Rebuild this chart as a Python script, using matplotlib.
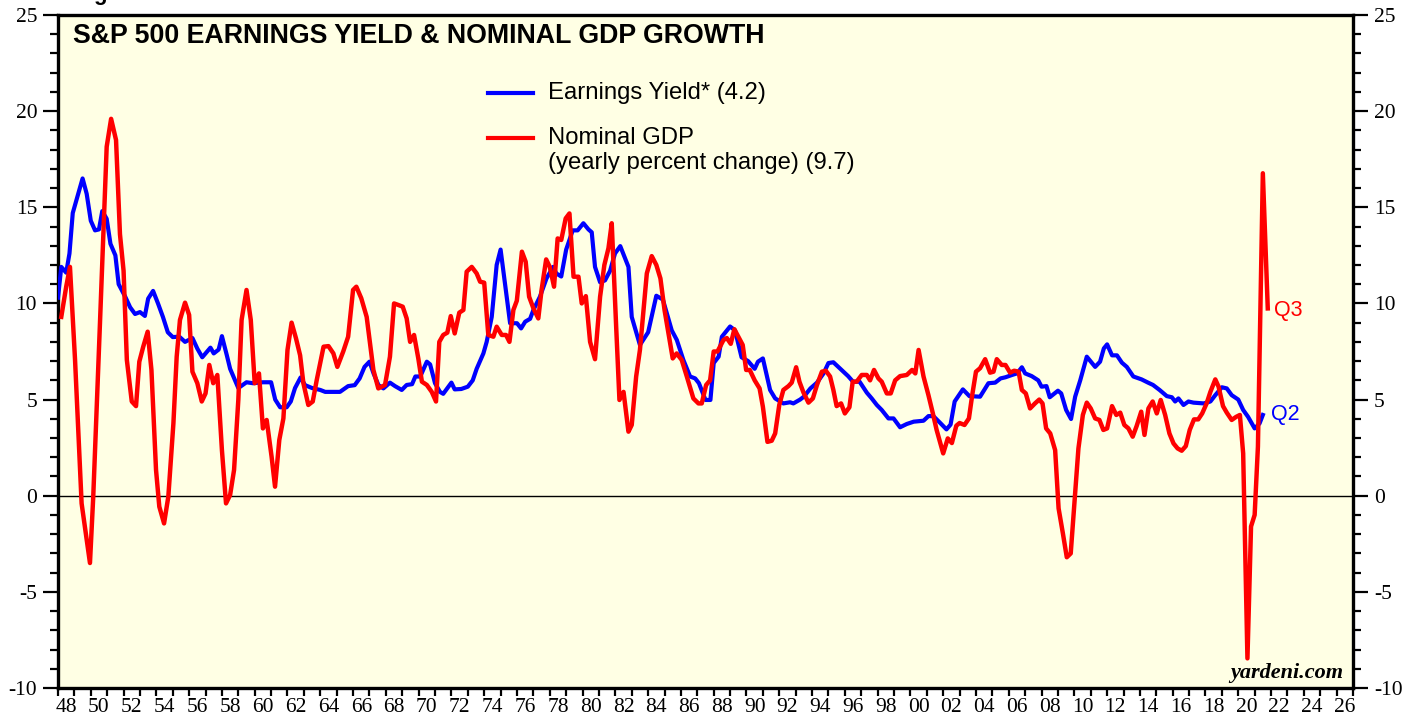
import numpy as np
import matplotlib
matplotlib.use('Agg')
import matplotlib.pyplot as plt
from matplotlib.ticker import MultipleLocator, FixedLocator, NullFormatter, FixedFormatter

# S&P 500 earnings yield (blue) at turning points
ey_years = [1948.0, 1948.2, 1948.5, 1948.7, 1948.9, 1949.2, 1949.5, 1949.75, 1950.0, 1950.26,
            1950.5, 1950.7, 1950.97, 1951.2, 1951.5, 1951.7, 1952.1, 1952.4, 1952.7, 1953.0,
            1953.3, 1953.5, 1953.8, 1954.1, 1954.4, 1954.7, 1955.0, 1955.4, 1955.75, 1956.2,
            1956.5, 1956.8, 1957.3, 1957.5, 1957.8, 1958.0, 1958.3, 1958.5, 1959.0, 1959.5,
            1959.9, 1960.5, 1961.0, 1961.25, 1961.55, 1961.95, 1962.2, 1962.46, 1962.8, 1963.07,
            1963.5, 1964.0, 1964.3, 1965.2, 1965.7, 1966.1, 1966.4, 1966.7, 1967.0, 1967.25,
            1967.55, 1967.85, 1968.25, 1968.56, 1968.97, 1969.27, 1969.6, 1969.8, 1970.1, 1970.5,
            1970.7, 1971.0, 1971.3, 1971.5, 1972.0, 1972.2, 1972.6, 1973.0, 1973.3, 1973.54,
            1973.95, 1974.15, 1974.46, 1974.76, 1975.0, 1975.27, 1975.58, 1976.0, 1976.25, 1976.5,
            1976.8, 1977.0, 1977.4, 1977.8, 1978.2, 1978.4, 1978.7, 1979.0, 1979.4, 1979.7,
            1980.05, 1980.36, 1980.56, 1980.76, 1981.07, 1981.37, 1981.68, 1981.98, 1982.3, 1982.8,
            1983.0, 1983.5, 1984.0, 1984.5, 1984.9, 1985.44, 1985.75, 1986.15, 1986.56, 1986.87,
            1987.1, 1987.5, 1987.8, 1988.0, 1988.3, 1988.5, 1989.0, 1989.3, 1989.7, 1990.1,
            1990.5, 1990.7, 1991.0, 1991.44, 1991.75, 1992.25, 1992.66, 1992.86, 1993.27, 1993.5,
            1993.9, 1994.3, 1994.7, 1995.0, 1995.3, 1995.8, 1996.2, 1996.5, 1996.9, 1997.34,
            1997.64, 1997.95, 1998.25, 1998.66, 1998.97, 1999.37, 1999.78, 2000.2, 2000.8, 2001.1,
            2001.4, 2001.8, 2002.2, 2002.45, 2002.7, 2003.2, 2003.6, 2004.25, 2004.76, 2005.17,
            2005.5, 2005.8, 2006.2, 2006.5, 2006.8, 2007.0, 2007.4, 2007.8, 2008.0, 2008.3,
            2008.5, 2009.0, 2009.2, 2009.5, 2009.8, 2010.05, 2010.36, 2010.76, 2011.27, 2011.57,
            2011.8, 2012.0, 2012.3, 2012.6, 2012.9, 2013.2, 2013.6, 2014.1, 2014.5, 2014.8,
            2015.2, 2015.64, 2015.95, 2016.15, 2016.35, 2016.66, 2016.96, 2017.27, 2017.9, 2018.3,
            2018.6, 2019.0, 2019.3, 2019.6, 2020.0, 2020.3, 2020.6, 2021.0, 2021.3, 2021.5]
ey_vals = [10.3, 11.9, 11.6, 12.6, 14.7, 15.6, 16.5, 15.7, 14.3, 13.8,
           13.85, 14.8, 14.4, 13.1, 12.5, 11.0, 10.35, 9.8, 9.45, 9.55,
           9.35, 10.25, 10.65, 10.0, 9.3, 8.5, 8.25, 8.27, 8.0, 8.2,
           7.65, 7.2, 7.7, 7.4, 7.6, 8.3, 7.3, 6.6, 5.6, 5.9,
           5.85, 5.9, 5.9, 5.0, 4.6, 4.6, 4.9, 5.6, 6.15, 5.75,
           5.6, 5.5, 5.4, 5.4, 5.7, 5.75, 6.1, 6.7, 6.97, 6.36,
           5.75, 5.58, 5.88, 5.7, 5.5, 5.76, 5.8, 6.2, 6.2, 6.97,
           6.83, 5.85, 5.4, 5.3, 5.88, 5.53, 5.55, 5.67, 6.0, 6.6,
           7.4, 8.0, 9.3, 12.0, 12.8, 11.0, 8.97, 8.97, 8.7, 9.05,
           9.2, 9.66, 10.35, 11.3, 11.9, 11.56, 11.4, 12.8, 13.8, 13.8,
           14.17, 13.85, 13.7, 11.9, 11.1, 11.2, 11.7, 12.6, 12.98, 11.9,
           9.3, 7.84, 8.5, 10.4, 10.2, 8.6, 8.1, 7.06, 6.2, 6.1,
           5.85, 4.98, 4.98, 6.9, 7.23, 8.27, 8.8, 8.6, 7.2, 7.0,
           6.6, 6.97, 7.14, 5.5, 5.06, 4.8, 4.86, 4.8, 5.0, 5.15,
           5.58, 5.88, 6.36, 6.9, 6.94, 6.54, 6.22, 5.93, 5.93, 5.36,
           5.06, 4.72, 4.46, 4.02, 4.02, 3.56, 3.73, 3.85, 3.9, 4.14,
           4.14, 3.8, 3.45, 3.7, 4.9, 5.53, 5.18, 5.15, 5.85, 5.88,
           6.1, 6.16, 6.28, 6.36, 6.68, 6.36, 6.22, 6.0, 5.67, 5.7,
           5.12, 5.46, 5.32, 4.46, 3.99, 5.15, 6.0, 7.23, 6.7, 6.97,
           7.66, 7.87, 7.3, 7.3, 6.92, 6.7, 6.2, 6.05, 5.88, 5.76,
           5.5, 5.18, 5.12, 4.9, 5.06, 4.72, 4.9, 4.84, 4.8, 4.9,
           5.23, 5.64, 5.58, 5.23, 5.0, 4.46, 4.1, 3.5, 3.76, 4.2]

# nominal GDP, yearly percent change (red)
gdp_years = [1948.2, 1948.5, 1948.73, 1949.04, 1949.44, 1949.7, 1949.95, 1950.15, 1950.56, 1950.97,
             1951.24, 1951.54, 1951.78, 1952.0, 1952.2, 1952.5, 1952.76, 1952.96, 1953.2, 1953.47,
             1953.7, 1953.98, 1954.18, 1954.47, 1954.73, 1955.04, 1955.24, 1955.44, 1955.75, 1956.0,
             1956.2, 1956.5, 1956.77, 1957.0, 1957.23, 1957.47, 1957.72, 1958.0, 1958.25, 1958.5,
             1958.74, 1959.0, 1959.2, 1959.5, 1959.76, 1960.0, 1960.26, 1960.5, 1960.73, 1961.03,
             1961.24, 1961.5, 1961.75, 1962.0, 1962.25, 1962.52, 1962.77, 1962.97, 1963.27, 1963.54,
             1963.78, 1964.2, 1964.5, 1964.8, 1965.04, 1965.4, 1965.7, 1966.0, 1966.2, 1966.5,
             1966.83, 1967.24, 1967.54, 1967.95, 1968.25, 1968.5, 1968.76, 1969.03, 1969.27, 1969.48,
             1969.72, 1969.98, 1970.2, 1970.5, 1970.8, 1971.06, 1971.26, 1971.5, 1971.75, 1971.96,
             1972.2, 1972.48, 1972.73, 1972.93, 1973.24, 1973.54, 1973.75, 1974.0, 1974.25, 1974.56,
             1974.76, 1975.07, 1975.33, 1975.54, 1975.78, 1975.99, 1976.3, 1976.53, 1976.74, 1977.0,
             1977.3, 1977.5, 1977.78, 1978.0, 1978.26, 1978.48, 1978.7, 1978.97, 1979.2, 1979.45,
             1979.75, 1979.95, 1980.2, 1980.46, 1980.76, 1981.07, 1981.33, 1981.58, 1981.78, 1982.05,
             1982.25, 1982.5, 1982.8, 1983.0, 1983.27, 1983.5, 1983.92, 1984.22, 1984.5, 1984.75,
             1985.0, 1985.5, 1985.74, 1986.05, 1986.36, 1986.76, 1987.07, 1987.27, 1987.54, 1987.78,
             1988.0, 1988.23, 1988.6, 1988.8, 1989.04, 1989.26, 1989.5, 1989.77, 1989.98, 1990.2,
             1990.5, 1990.8, 1991.0, 1991.28, 1991.54, 1991.75, 1992.0, 1992.25, 1992.56, 1992.76,
             1993.03, 1993.23, 1993.48, 1993.78, 1994.05, 1994.3, 1994.6, 1994.84, 1995.1, 1995.3,
             1995.5, 1995.77, 1996.0, 1996.28, 1996.48, 1996.72, 1997.03, 1997.34, 1997.54, 1997.78,
             1998.05, 1998.25, 1998.56, 1998.8, 1999.07, 1999.37, 1999.78, 2000.1, 2000.3, 2000.5,
             2000.8, 2001.1, 2001.37, 2001.6, 2002.0, 2002.28, 2002.53, 2002.8, 2003.0, 2003.3,
             2003.57, 2003.77, 2004.0, 2004.25, 2004.56, 2004.86, 2005.07, 2005.27, 2005.57, 2005.8,
             2006.08, 2006.33, 2006.6, 2006.8, 2007.04, 2007.3, 2007.6, 2007.86, 2008.06, 2008.28,
             2008.53, 2008.83, 2009.04, 2009.3, 2009.54, 2009.78, 2010.05, 2010.25, 2010.52, 2010.76,
             2011.0, 2011.27, 2011.53, 2011.77, 2012.0, 2012.3, 2012.56, 2012.8, 2013.05, 2013.3,
             2013.56, 2013.8, 2014.08, 2014.28, 2014.52, 2014.78, 2015.03, 2015.27, 2015.54, 2015.8,
             2016.05, 2016.3, 2016.55, 2016.8, 2017.04, 2017.3, 2017.56, 2017.8, 2018.07, 2018.3,
             2018.6, 2018.8, 2019.07, 2019.3, 2019.6, 2019.87, 2020.1, 2020.3, 2020.56, 2020.78,
             2021.0, 2021.2, 2021.5, 2021.8]
gdp_vals = [9.3, 10.87, 11.9, 7.06, -0.4, -2.0, -3.5, -0.05, 8.97, 18.15,
            19.6, 18.5, 13.6, 11.7, 7.06, 4.9, 4.66, 6.97, 7.75, 8.53,
            6.54, 1.34, -0.57, -1.44, -0.05, 3.76, 7.23, 9.14, 10.04, 9.4,
            6.45, 5.85, 4.9, 5.32, 6.8, 5.85, 6.28, 2.37, -0.4, 0.04,
            1.34, 4.98, 9.14, 10.7, 9.14, 5.85, 6.36, 3.5, 3.94, 2.03,
            0.47, 2.9, 4.02, 7.58, 9.0, 8.18, 7.3, 5.85, 4.72, 4.9,
            6.0, 7.75, 7.78, 7.4, 6.7, 7.5, 8.27, 10.7, 10.87, 10.27,
            9.3, 6.54, 5.58, 5.76, 7.23, 10.0, 9.92, 9.83, 9.22, 8.0,
            8.36, 7.14, 5.93, 5.76, 5.4, 4.9, 8.0, 8.36, 8.48, 9.34,
            8.44, 9.52, 9.66, 11.65, 11.9, 11.56, 11.13, 11.08, 8.36, 8.27,
            8.79, 8.36, 8.36, 8.0, 9.66, 10.14, 12.69, 12.17, 10.35, 9.75,
            9.22, 10.7, 12.29, 11.9, 10.87, 13.38, 13.3, 14.42, 14.68, 11.39,
            11.39, 10.0, 10.38, 8.0, 7.1, 10.35, 12.0, 12.87, 14.17, 8.79,
            4.98, 5.4, 3.33, 3.68, 6.2, 7.58, 11.56, 12.46, 12.0, 11.3,
            9.66, 7.14, 7.4, 7.06, 6.2, 5.06, 4.8, 4.8, 5.76, 6.0,
            7.5, 7.5, 8.1, 8.2, 7.9, 8.66, 8.27, 7.84, 6.54, 6.54,
            6.0, 5.58, 4.63, 2.8, 2.86, 3.24, 4.72, 5.5, 5.7, 5.88,
            6.68, 5.93, 5.36, 4.84, 5.06, 5.76, 6.45, 6.5, 6.2, 5.5,
            4.66, 4.8, 4.28, 4.6, 5.93, 5.93, 6.28, 6.28, 6.0, 6.54,
            6.1, 5.93, 5.32, 5.32, 6.0, 6.22, 6.28, 6.54, 6.36, 7.58,
            6.2, 5.23, 4.28, 3.42, 2.2, 2.98, 2.74, 3.64, 3.78, 3.68,
            4.02, 5.23, 6.45, 6.63, 7.1, 6.4, 6.45, 7.1, 6.8, 6.8,
            6.4, 6.5, 6.45, 5.5, 5.32, 4.54, 4.8, 5.0, 4.8, 3.5,
            3.24, 2.37, -0.66, -1.95, -3.2, -3.0, 0.12, 2.46, 4.2, 4.84,
            4.54, 4.02, 3.94, 3.42, 3.5, 4.66, 4.2, 4.32, 3.68, 3.5,
            3.07, 3.62, 4.37, 3.16, 4.54, 4.9, 4.28, 4.98, 4.2, 3.24,
            2.72, 2.46, 2.34, 2.58, 3.42, 3.97, 3.97, 4.28, 4.8, 5.4,
            6.05, 5.67, 4.66, 4.32, 3.94, 4.1, 4.2, 2.2, -8.46, -1.6,
            -1.0, 2.55, 16.77, 9.74]

title = 'S&P 500 EARNINGS YIELD & NOMINAL GDP GROWTH'
ey_label = 'Earnings Yield* (4.2)'
gdp_label_1 = 'Nominal GDP'
gdp_label_2 = '(yearly percent change) (9.7)'

plt.rcParams['axes.unicode_minus'] = False
sans = ['Liberation Sans', 'DejaVu Sans']
serif = ['Liberation Serif', 'DejaVu Serif']

fig = plt.figure(figsize=(14.19, 7.21), dpi=100)
ax = fig.add_axes([58/1419, 1 - 688/721, 1295/1419, 673/721])
ax.set_facecolor('#FFFFE4')

ax.axhline(0, color='black', lw=1.0, zorder=1)
ax.plot(ey_years, ey_vals, color='#0000FF', lw=3.0, solid_joinstyle='round', zorder=3)
ax.plot(gdp_years, gdp_vals, color='#FF0000', lw=3.2, solid_joinstyle='round', zorder=4)

ax.set_xlim(1948, 2027)
ax.set_ylim(-10, 25)

# x axis: a tick every year, labels every other year centred on the year
ax.xaxis.set_major_locator(MultipleLocator(1))
ax.xaxis.set_major_formatter(NullFormatter())
lab_years = list(range(1948, 2027, 2))
ax.xaxis.set_minor_locator(FixedLocator([y + 0.5 for y in lab_years]))
ax.xaxis.set_minor_formatter(FixedFormatter([f'{y % 100:02d}' for y in lab_years]))
ax.tick_params(axis='x', which='major', direction='out', length=6, width=1.6)
ax.tick_params(axis='x', which='minor', length=0, pad=7, labelsize=15.5)

ax.yaxis.set_major_locator(MultipleLocator(5))
ax.yaxis.set_minor_locator(MultipleLocator(1))
ax.tick_params(axis='y', which='major', direction='out', length=11, width=1.6,
               left=True, right=True, labelleft=True, labelright=True, labelsize=15.5, pad=4)
ax.tick_params(axis='y', which='minor', direction='out', length=6, width=1.6,
               left=True, right=True)
for lab in ax.get_xticklabels(minor=True) + ax.get_yticklabels():
    lab.set_family(serif)

for sp in ax.spines.values():
    sp.set_linewidth(2.4)

ax.text(0.0116, 0.969, title, transform=ax.transAxes, ha='left', va='center',
        fontsize=19.3, fontweight='bold', family=sans)

# legend drawn by hand so the red line sits on the first label line
ax.plot([0.332, 0.3668], [0.884, 0.884], transform=ax.transAxes, color='#0000FF', lw=3.0)
ax.plot([0.332, 0.3668], [0.8165, 0.8165], transform=ax.transAxes, color='#FF0000', lw=3.0)
ax.text(0.3784, 0.884, ey_label, transform=ax.transAxes, ha='left', va='center',
        fontsize=17.2, family=sans)
ax.text(0.3784, 0.8165, gdp_label_1, transform=ax.transAxes, ha='left', va='center',
        fontsize=17.2, family=sans)
ax.text(0.3784, 0.7805, gdp_label_2, transform=ax.transAxes, ha='left', va='center',
        fontsize=17.2, family=sans)

ax.text(2022.0, ey_vals[-1], 'Q2', color='#0000FF', ha='left', va='center', fontsize=15.5, family=sans)
ax.text(2022.2, 9.65, 'Q3', color='#FF0000', ha='left', va='center', fontsize=15.5, family=sans)

ax.text(0.9923, 0.0149, 'yardeni.com', transform=ax.transAxes, ha='right', va='baseline',
        fontsize=16, fontweight='bold', style='italic', family=serif)

# header text that is clipped by the top edge, as in the source image
fig.text(100/1419, 1.0, 'g', ha='center', va='baseline', fontsize=16, fontweight='bold', family=sans)

fig.savefig('out.png', dpi=100)
